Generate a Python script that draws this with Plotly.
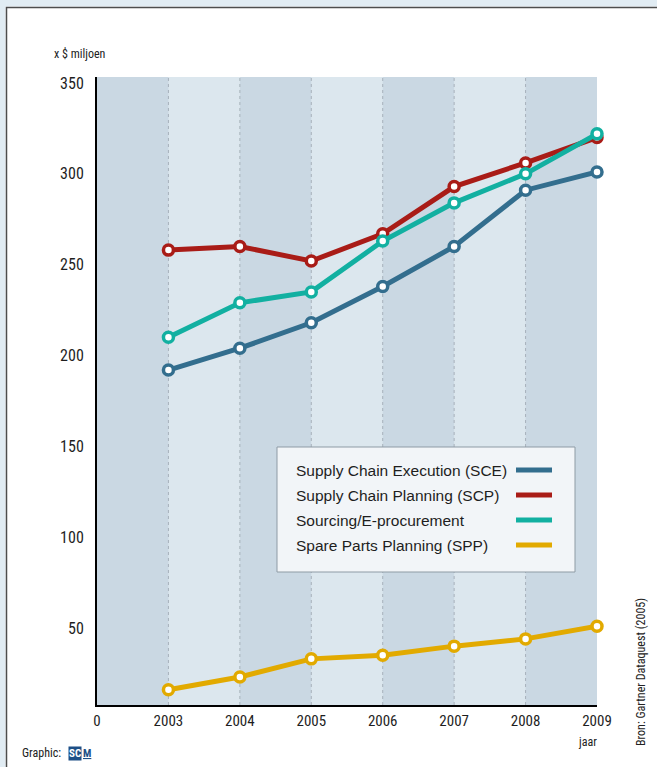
import plotly.graph_objects as go

# ---------------- data ----------------
years = ["2003", "2004", "2005", "2006", "2007", "2008", "2009"]
x_tick_labels = ["0"] + years
series_names = [
    "Supply Chain Execution (SCE)",
    "Supply Chain Planning (SCP)",
    "Sourcing/E-procurement",
    "Spare Parts Planning (SPP)",
]
sce = [192, 204, 218, 238, 260, 291, 301]
scp = [258, 260, 252, 267, 293, 306, 320]
sourcing = [210, 229, 235, 263, 284, 300, 322]
spp = [16, 23, 33, 35, 40, 44, 51]
y_ticks = [50, 100, 150, 200, 250, 300, 350]

colors = ["#336e8e", "#a91c17", "#12b0a1", "#e2aa00"]
series_values = [sce, scp, sourcing, spp]

NARROW = "Liberation Sans Narrow, Roboto Condensed, DejaVu Sans Condensed, Arial Narrow, sans-serif"
REG = "Liberation Sans, Arial, Helvetica, sans-serif"

# plot geometry (pixels) for converting fixed decorations to paper coords
L, R, T, B = 97, 597, 77, 705
W, H = 657, 767
def px(x):
    return (x - L) / (R - L)
def py(y):
    return (B - y) / (B - T)

xpos = list(range(1, len(years) + 1))

fig = go.Figure()
for name, vals, col in zip(series_names, series_values, colors):
    fig.add_trace(go.Scatter(
        x=xpos, y=vals, name=name, mode="lines+markers",
        line=dict(color=col, width=5),
        marker=dict(symbol="circle", size=10, color="white",
                    line=dict(color=col, width=3.5)),
        showlegend=False, cliponaxis=False, hoverinfo="skip",
    ))

shapes = []
# alternating column bands
for i in range(0, len(years) + 1, 2):
    shapes.append(dict(type="rect", xref="x", yref="paper", x0=i, x1=i + 1,
                       y0=0, y1=1, fillcolor="#cad8e3", line=dict(width=0),
                       layer="below"))
# dashed year separators
for i in xpos[:-1]:
    shapes.append(dict(type="line", xref="x", yref="paper", x0=i, x1=i,
                       y0=0, y1=1, line=dict(color="#a7b2bb", width=1, dash="3px,3px"),
                       layer="below"))
# outer page frame (light blue margin + dark panel border)
shapes.append(dict(type="rect", xref="paper", yref="paper",
                   x0=px(0), x1=px(W), y0=py(6.5), y1=py(0),
                   fillcolor="#e1ecf3", line=dict(width=0), layer="above"))
shapes.append(dict(type="rect", xref="paper", yref="paper",
                   x0=px(0), x1=px(5.5), y0=py(H), y1=py(0),
                   fillcolor="#e1ecf3", line=dict(width=0), layer="above"))
shapes.append(dict(type="path", xref="paper", yref="paper",
                   path=f"M {px(6.5)} {py(H)} L {px(6.5)} {py(7.5)} L {px(W)} {py(7.5)}",
                   line=dict(color="#4d4d4d", width=1.5), layer="above"))

# manual legend (text left, line sample right)
shapes.append(dict(type="rect", xref="paper", yref="paper",
                   x0=px(277), x1=px(575), y0=py(572), y1=py(447),
                   fillcolor="#f2f5f8", line=dict(color="#8e9ba5", width=1),
                   layer="above"))
annotations = []
row_y = [470, 495, 520, 545]
for name, col, ry in zip(series_names, colors, row_y):
    shapes.append(dict(type="line", xref="paper", yref="paper",
                       x0=px(516), x1=px(552), y0=py(ry), y1=py(ry),
                       line=dict(color=col, width=5), layer="above"))
    annotations.append(dict(x=px(294), y=py(ry), xref="paper", yref="paper",
                            text=name, showarrow=False, xanchor="left", yanchor="middle",
                            font=dict(family=REG, size=15.5, color="#1e1e1e")))

annotations += [
    dict(x=px(52), y=py(54), xref="paper", yref="paper", text="x $ miljoen",
         showarrow=False, xanchor="left", yanchor="middle",
         font=dict(family=NARROW, size=12, color="#222")),
    dict(x=px(599), y=py(742), xref="paper", yref="paper", text="jaar",
         showarrow=False, xanchor="right", yanchor="middle",
         font=dict(family=NARROW, size=12, color="#222")),
    dict(x=px(20), y=py(753), xref="paper", yref="paper", text="Graphic:",
         showarrow=False, xanchor="left", yanchor="middle",
         font=dict(family=NARROW, size=12, color="#222")),
    dict(x=px(68), y=py(753), xref="paper", yref="paper", text="<b>SC</b>",
         showarrow=False, xanchor="left", yanchor="middle", bgcolor="#1d4f86",
         borderpad=0, font=dict(family=NARROW, size=11, color="white")),
    dict(x=px(81.5), y=py(753), xref="paper", yref="paper", text="<b><u>M</u></b>",
         showarrow=False, xanchor="left", yanchor="middle",
         borderpad=0, font=dict(family=NARROW, size=11, color="#1d4f86")),
    dict(x=px(641), y=py(672), xref="paper", yref="paper",
         text="Bron: Gartner Dataquest (2005)", textangle=-90,
         showarrow=False, xanchor="center", yanchor="middle",
         font=dict(family=NARROW, size=12, color="#222")),
]

fig.update_layout(
    width=W, height=H,
    margin=dict(l=L, r=W - R, t=T, b=H - B),
    paper_bgcolor="white",
    plot_bgcolor="#dce7ee",
    shapes=shapes,
    annotations=annotations,
    showlegend=False,
    hovermode=False,
    xaxis=dict(range=[0, len(years)], tickvals=list(range(0, len(years) + 1)),
               ticktext=x_tick_labels, showgrid=False, zeroline=False,
               showline=True, linecolor="black", linewidth=2, ticks="",
               ticklabelstandoff=1,
               tickfont=dict(family=NARROW, size=15, color="#1e1e1e")),
    yaxis=dict(range=[7.6, 353.3], tickvals=y_ticks, showgrid=False,
               zeroline=False, showline=True, linecolor="black", linewidth=2,
               ticks="", ticklabelstandoff=8,
               tickfont=dict(family=NARROW, size=16, color="#1e1e1e")),
)

fig.write_html(
    "out.html",
    config={"displayModeBar": False},
    post_script="document.body.style.margin='0';",
)
